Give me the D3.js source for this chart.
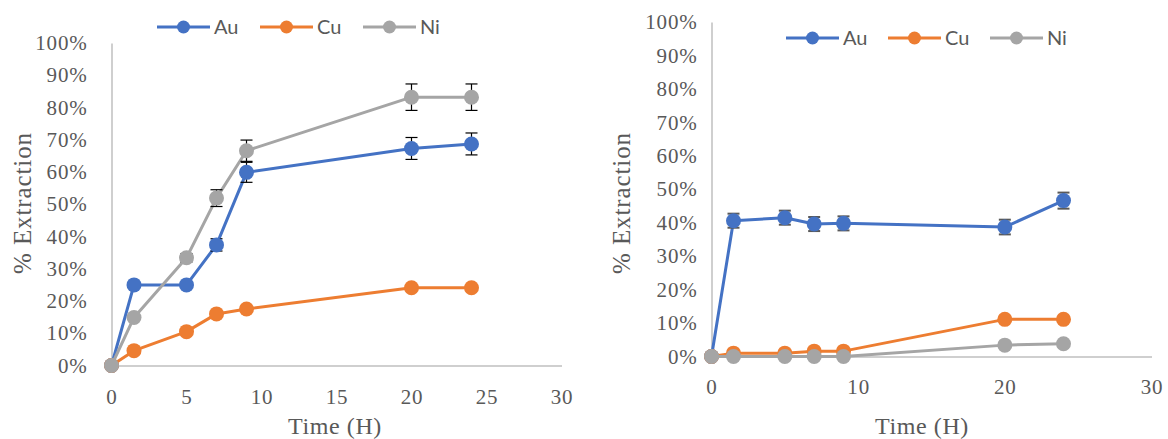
<!DOCTYPE html>
<html>
<head>
<meta charset="utf-8">
<script src="https://cdn.jsdelivr.net/npm/d3@7"></script>
<style>
  body { margin: 0; background: #fff; }
  svg { display: block; }
</style>
</head>
<body>
<div id="chart"></div>
<script>
// DATA
const times = [0, 1.5, 5, 7, 9, 20, 24];
const seriesNames = ["Au", "Cu", "Ni"];
const seriesColors = ["#4472C4", "#ED7D31", "#A5A5A5"];
const yTicks = [0, 10, 20, 30, 40, 50, 60, 70, 80, 90, 100];
const xTicksLeft = [0, 5, 10, 15, 20, 25, 30];
const xTicksRight = [0, 10, 20, 30];

// left panel
const leftAu = [0, 25.0, 25.0, 37.4, 59.9, 67.3, 68.7];
const leftCu = [0, 4.6, 10.5, 16.0, 17.5, 24.1, 24.1];
const leftNi = [0, 14.9, 33.4, 51.9, 66.6, 83.2, 83.2];
const leftAuErr = [0, 0, 0, 1.9, 3.1, 3.4, 3.4];
const leftCuErr = [0, 0, 0, 0, 0, 0, 0];
const leftNiErr = [0, 0, 1.3, 2.6, 3.3, 4.1, 4.1];

// right panel
const rightAu = [0, 40.6, 41.5, 39.6, 39.8, 38.7, 46.6];
const rightCu = [0, 1.0, 1.0, 1.6, 1.6, 11.1, 11.1];
const rightNi = [0, 0, 0, 0, 0, 3.4, 3.8];
const rightAuErr = [0, 2.1, 2.1, 2.1, 2.1, 2.2, 2.4];
const rightCuErr = [0, 0, 0, 0, 0, 0, 0];
const rightNiErr = [0, 0, 0, 0, 0, 0, 0];

const W = 1168, H = 439;
const serif = "Liberation Serif";
const textColor = "#595959";

const svg = d3.select("#chart").append("svg")
  .attr("width", W).attr("height", H);

function panel(opt) {
  const x = d3.scaleLinear().domain([0, 30]).range(opt.xRange);
  const y = d3.scaleLinear().domain([0, 100]).range(opt.yRange);
  const g = svg.append("g");

  // y axis
  const yAx = g.append("g")
    .attr("transform", "translate(" + opt.xRange[0] + ",0)")
    .call(d3.axisLeft(y).tickValues(yTicks).tickSize(0).tickPadding(opt.yPad)
      .tickFormat(d => d + "%"));
  yAx.select(".domain").attr("stroke", "#BFBFBF").attr("stroke-width", 1.5);
  yAx.selectAll("text").attr("font-family", serif).attr("font-size", 21)
    .attr("letter-spacing", "0.8px").attr("fill", textColor);

  // x axis
  const xAx = g.append("g")
    .attr("transform", "translate(0," + opt.yRange[0] + ")")
    .call(d3.axisBottom(x).tickValues(opt.xTicks).tickSize(0).tickPadding(opt.xPad));
  xAx.select(".domain").attr("stroke", "#BFBFBF").attr("stroke-width", 1.5);
  xAx.selectAll("text").attr("font-family", serif).attr("font-size", 21)
    .attr("letter-spacing", "0.8px").attr("fill", textColor);

  // titles
  g.append("text")
    .attr("transform", "translate(" + opt.yTitle[0] + "," + opt.yTitle[1] + ") rotate(-90)")
    .attr("text-anchor", "middle").attr("dy", "0.35em")
    .attr("font-family", serif).attr("font-size", 25).attr("letter-spacing", "0.9px")
    .attr("fill", textColor)
    .text("% Extraction");
  g.append("text")
    .attr("x", opt.xTitle[0]).attr("y", opt.xTitle[1])
    .attr("text-anchor", "middle").attr("dy", "0.35em")
    .attr("font-family", serif).attr("font-size", 24).attr("letter-spacing", "0.6px")
    .attr("fill", textColor)
    .text("Time (H)");

  const line = d3.line().x(d => x(d.t)).y(d => y(d.v));

  opt.series.forEach((vals, i) => {
    const pts = times.map((t, j) => ({ t: t, v: vals[j], e: opt.errs[i][j] }));
    const sg = g.append("g");
    sg.append("path").datum(pts)
      .attr("d", line).attr("fill", "none")
      .attr("stroke", seriesColors[i]).attr("stroke-width", 3)
      .attr("stroke-linejoin", "round");
    // error bars (under the markers)
    const eb = sg.selectAll(".err").data(pts.filter(d => d.e > 0)).join("g")
      .attr("class", "err")
      .attr("stroke", opt.errColor).attr("stroke-width", opt.errWidth);
    eb.append("line")
      .attr("x1", d => x(d.t)).attr("x2", d => x(d.t))
      .attr("y1", d => y(d.v + d.e)).attr("y2", d => y(d.v - d.e));
    eb.append("line")
      .attr("x1", d => x(d.t) - 6).attr("x2", d => x(d.t) + 6)
      .attr("y1", d => y(d.v + d.e)).attr("y2", d => y(d.v + d.e));
    eb.append("line")
      .attr("x1", d => x(d.t) - 6).attr("x2", d => x(d.t) + 6)
      .attr("y1", d => y(d.v - d.e)).attr("y2", d => y(d.v - d.e));
    sg.selectAll("circle").data(pts).join("circle")
      .attr("cx", d => x(d.t)).attr("cy", d => y(d.v)).attr("r", 7.5)
      .attr("fill", seriesColors[i]);
  });

  // legend
  const lg = g.append("g")
    .attr("transform", "translate(" + opt.legend[0] + "," + opt.legend[1] + ")");
  seriesNames.forEach((name, i) => {
    const it = lg.append("g").attr("transform", "translate(" + (i * opt.legendStep) + ",0)");
    it.append("line").attr("x1", 0).attr("x2", 53).attr("y1", 0).attr("y2", 0)
      .attr("stroke", seriesColors[i]).attr("stroke-width", 3);
    it.append("circle").attr("cx", 26.5).attr("cy", 0).attr("r", 6.5)
      .attr("fill", seriesColors[i]);
    it.append("text").attr("x", 57).attr("y", 0).attr("dy", "0.35em")
      .attr("font-family", "Lato").attr("font-size", 20).attr("fill", textColor)
      .text(name);
  });
}

panel({
  xRange: [111.5, 561.5], yRange: [365.5, 43],
  xTicks: xTicksLeft, yPad: 24, xPad: 24,
  yTitle: [22, 203], xTitle: [335, 426],
  series: [leftAu, leftCu, leftNi], errs: [leftAuErr, leftCuErr, leftNiErr],
  errColor: "#000", errWidth: 1.2,
  legend: [157, 27], legendStep: 103
});

panel({
  xRange: [711.5, 1151.5], yRange: [356.5, 22],
  xTicks: xTicksRight, yPad: 14, xPad: 23,
  yTitle: [621, 203], xTitle: [922, 426],
  series: [rightAu, rightCu, rightNi], errs: [rightAuErr, rightCuErr, rightNiErr],
  errColor: "#595959", errWidth: 2,
  legend: [786, 38], legendStep: 102
});
</script>
</body>
</html>
